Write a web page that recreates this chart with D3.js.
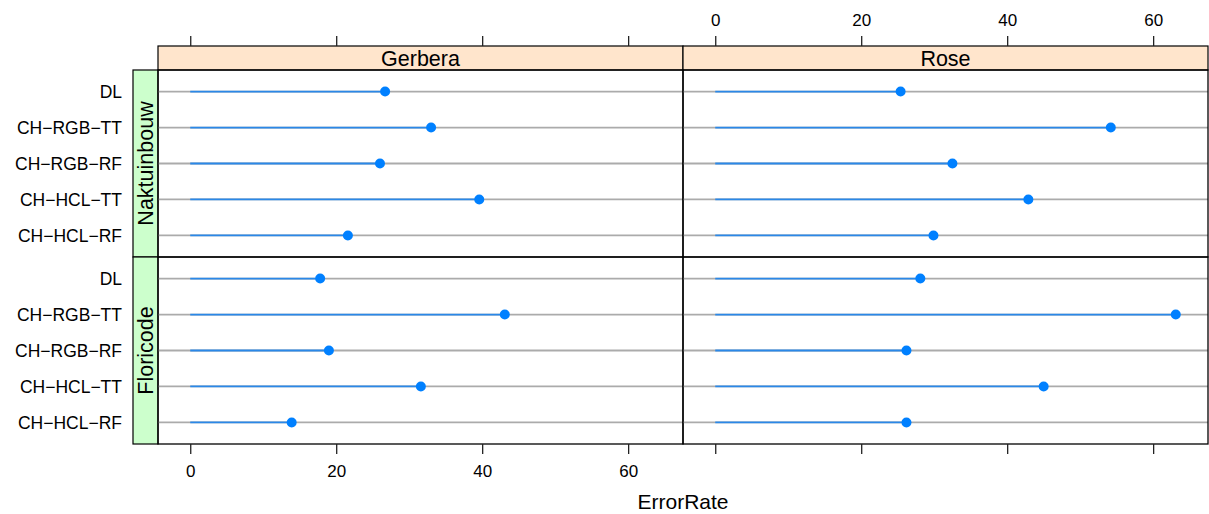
<!DOCTYPE html>
<html>
<head>
<meta charset="utf-8">
<script src="https://cdn.jsdelivr.net/npm/d3@7"></script>
<style>
  body { margin: 0; background: #fff; }
  svg { display: block; font-family: "Liberation Sans", Arial, Helvetica, sans-serif; }
</style>
</head>
<body>
<div id="chart"></div>
<script>
// methods listed top to bottom, as they appear in each panel
const methods = ["DL", "CH\u2212RGB\u2212TT", "CH\u2212RGB\u2212RF", "CH\u2212HCL\u2212TT", "CH\u2212HCL\u2212RF"];
const flowers = ["Gerbera", "Rose"];
const sources = ["Naktuinbouw", "Floricode"];
const xTicks = [0, 20, 40, 60];

// ErrorRate per method, one array per panel
const gerberaNaktuinbouw = [26.7, 33.0, 26.0, 39.6, 21.6];
const roseNaktuinbouw    = [25.4, 54.2, 32.5, 42.9, 29.9];
const gerberaFloricode   = [17.8, 43.1, 19.0, 31.6, 13.9];
const roseFloricode      = [28.1, 63.1, 26.2, 45.0, 26.2];

const panelValues = {
  "Naktuinbouw": { "Gerbera": gerberaNaktuinbouw, "Rose": roseNaktuinbouw },
  "Floricode":   { "Gerbera": gerberaFloricode,   "Rose": roseFloricode }
};

const W = 1209, H = 514;
const panelLeft = 158, panelW = 525, panelTop = 70, panelH = 187;
const stripH = 24, stripW = 25;

const svg = d3.select('#chart').append('svg').attr('width', W).attr('height', H);

// lattice pads the data range by 7% on each side
const allVals = [].concat(gerberaNaktuinbouw, roseNaktuinbouw, gerberaFloricode, roseFloricode, [0]);
const lo = d3.min(allVals), hi = d3.max(allVals), pad = (hi - lo) * 0.07;

const y = d3.scaleLinear().domain([0.4, methods.length + 0.6]).range([panelH, 0]);

// top strips
flowers.forEach((f, c) => {
    const g = svg.append('g').attr('transform', `translate(${panelLeft + c * panelW},${panelTop - stripH})`);
    g.append('rect').attr('width', panelW).attr('height', stripH)
        .attr('fill', '#ffe5cc').attr('stroke', 'black').attr('stroke-width', 1.2);
    g.append('text').attr('x', panelW / 2).attr('y', stripH / 2).attr('dy', '0.36em')
        .attr('text-anchor', 'middle').attr('font-size', 21.5).text(f);
});

// left strips + method labels
sources.forEach((s, r) => {
    const y0 = panelTop + r * panelH;
    svg.append('rect').attr('x', panelLeft - stripW).attr('y', y0).attr('width', stripW).attr('height', panelH)
        .attr('fill', '#ccffcc').attr('stroke', 'black').attr('stroke-width', 1.2);
    svg.append('text')
        .attr('transform', `translate(${panelLeft - stripW / 2},${y0 + panelH / 2}) rotate(-90)`)
        .attr('dy', '0.36em').attr('text-anchor', 'middle').attr('font-size', 21.5).text(s);

    svg.append('g').selectAll('text').data(methods).join('text')
        .attr('x', 122).attr('y', (d, i) => y0 + y(methods.length - i)).attr('dy', '0.36em')
        .attr('text-anchor', 'end').attr('font-size', 17.5).text(d => d);
});

// panels
sources.forEach((s, r) => {
    flowers.forEach((f, c) => {
        const x0 = panelLeft + c * panelW, y0 = panelTop + r * panelH;
        const x = d3.scaleLinear().domain([lo - pad, hi + pad]).range([0, panelW]);
        const vals = panelValues[s][f];
        const g = svg.append('g').attr('transform', `translate(${x0},${y0})`);

        g.selectAll('line.ref').data(methods).join('line').attr('class', 'ref')
            .attr('x1', 0).attr('x2', panelW)
            .attr('y1', (d, i) => y(methods.length - i)).attr('y2', (d, i) => y(methods.length - i))
            .attr('stroke', '#ababab').attr('stroke-width', 1.8);

        g.selectAll('line.seg').data(vals).join('line').attr('class', 'seg')
            .attr('x1', x(0)).attr('x2', d => x(d))
            .attr('y1', (d, i) => y(methods.length - i)).attr('y2', (d, i) => y(methods.length - i))
            .attr('stroke', '#2a88e8').attr('stroke-width', 1.8);

        g.selectAll('circle').data(vals).join('circle')
            .attr('cx', d => x(d)).attr('cy', (d, i) => y(methods.length - i))
            .attr('r', 5).attr('fill', '#0080ff');

        g.append('rect').attr('width', panelW).attr('height', panelH)
            .attr('fill', 'none').attr('stroke', 'black').attr('stroke-width', 1.3);

        // axes: bottom row gets bottom axis, top row top axis (labels alternate)
        if (r === sources.length - 1) {
            const ax = d3.axisBottom(x).tickValues(xTicks).tickSize(10).tickPadding(11);
            if (c !== 0) ax.tickFormat('');
            svg.append('g').attr('class', 'axis').attr('transform', `translate(${x0},${panelTop + 2 * panelH})`).call(ax);
        }
        if (r === 0) {
            const ax = d3.axisTop(x).tickValues(xTicks).tickSize(10).tickPadding(10.5);
            if (c !== 1) ax.tickFormat('');
            svg.append('g').attr('class', 'axis').attr('transform', `translate(${x0},${panelTop - stripH})`).call(ax);
        }
    });
});

svg.selectAll('.axis .domain').remove();
svg.selectAll('.axis line').attr('stroke', '#222').attr('stroke-width', 1.3);
svg.selectAll('.axis text').attr('font-size', 17).attr('fill', 'black')
    .attr('font-family', '"Liberation Sans", Arial, sans-serif');

svg.append('text').attr('x', panelLeft + panelW).attr('y', 509)
    .attr('text-anchor', 'middle').attr('font-size', 21).text('ErrorRate');
</script>
</body>
</html>
